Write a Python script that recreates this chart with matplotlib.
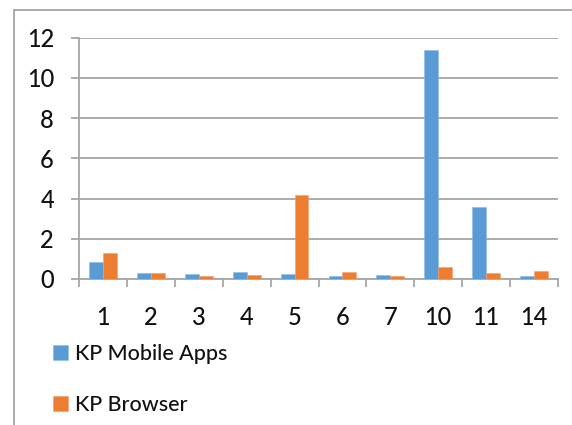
import matplotlib
matplotlib.use("Agg")
import matplotlib.pyplot as plt
from matplotlib.patches import Rectangle
import numpy as np

categories = ["1", "2", "3", "4", "5", "6", "7", "10", "11", "14"]
mobile_apps = [0.83, 0.32, 0.25, 0.35, 0.25, 0.16, 0.19, 11.4, 3.56, 0.14]
browser = [1.29, 0.32, 0.15, 0.20, 4.19, 0.37, 0.15, 0.60, 0.30, 0.40]
series_names = ["KP Mobile Apps", "KP Browser"]
yticks = [0, 2, 4, 6, 8, 10, 12]

BLUE = "#5B9BD5"
ORANGE = "#ED7D31"
GRID = "#A6A6A6"

plt.rcParams['font.family'] = ['Lato', 'DejaVu Sans']
plt.rcParams['font.weight'] = 'medium'
plt.rcParams['text.color'] = '#111111'
plt.rcParams['xtick.labelcolor'] = '#111111'
plt.rcParams['ytick.labelcolor'] = '#111111'

W, H = 572, 425
fig = plt.figure(figsize=(W / 100, H / 100), dpi=100)
ax = fig.add_axes([79 / W, (H - 279) / H, (558 - 79) / W, (279 - 37.7) / H])

x = np.arange(len(categories))
bw = 0.29
b1 = ax.bar(x - bw / 2, mobile_apps, width=bw, color=BLUE, edgecolor="#8DB9E4", linewidth=0.4, zorder=3)
b2 = ax.bar(x + bw / 2, browser, width=bw, color=ORANGE, edgecolor="#F2A070", linewidth=0.4, zorder=3)

ax.set_xlim(-0.5, len(categories) - 0.5)
ax.set_ylim(0, 12)
ax.set_yticks(yticks)
ax.set_yticklabels([str(v) for v in yticks])
ax.yaxis.grid(True, color=GRID, linewidth=1.3, zorder=0)
ax.set_axisbelow(True)

# category boundaries as major ticks, labels at centers as minor ticks
ax.set_xticks(np.arange(len(categories) + 1) - 0.5)
ax.set_xticklabels([])
ax.set_xticks(x, minor=True)
ax.set_xticklabels(categories, minor=True)
ax.tick_params(axis='x', which='major', length=6, width=1.3, color=GRID, direction='out')
ax.tick_params(axis='x', which='minor', length=0, pad=19.5, labelsize=17)
ax.tick_params(axis='y', length=6, width=1.3, color=GRID, pad=12, labelsize=17)

for s in ["top", "right"]:
    ax.spines[s].set_visible(False)
for s in ["left", "bottom"]:
    ax.spines[s].set_color(GRID)
    ax.spines[s].set_linewidth(1.3)

# outer chart frame (partly cropped)
frame = Rectangle((14 / W, -0.1), 1.2, (H - 9.5) / H + 0.1, transform=fig.transFigure,
                  fill=False, edgecolor="#A6A6A6", linewidth=1.3)
fig.patches.append(frame)

leg = fig.legend([b1, b2], series_names, loc="upper left",
                 bbox_to_anchor=(53 / W, (H - 344) / H), frameon=False,
                 fontsize=15.5, handlelength=0.7, handleheight=0.7,
                 handletextpad=0.3, labelspacing=1.45, borderpad=0, borderaxespad=0)

fig.savefig("out.png", dpi=100)
